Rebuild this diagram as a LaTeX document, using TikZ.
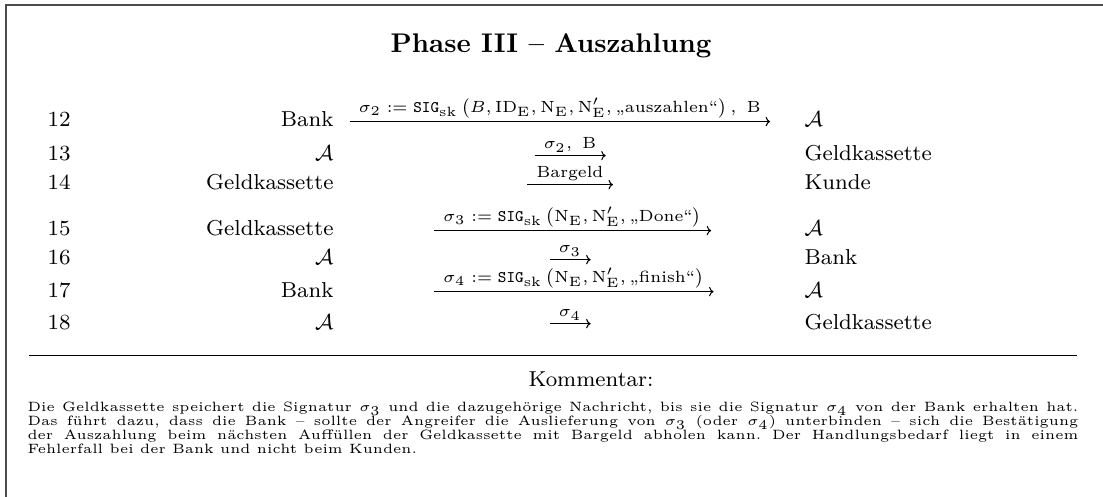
\documentclass[tikz,border=0pt]{standalone}
\usepackage{fontspec}
\usepackage{amsmath}
\usetikzlibrary{arrows.meta}
\tikzset{
  rowtxt/.style={font=\footnotesize, inner sep=0pt},
  num/.style={rowtxt, anchor=base west},
  lcol/.style={rowtxt, anchor=base east},
  rcol/.style={rowtxt, anchor=base west},
  msg/.style={-{Computer Modern Rightarrow}, line width=0.8pt},
  lbl/.style={font=\fontsize{6}{7}\selectfont, inner xsep=3.3pt, inner ysep=1.1pt},
  partxt/.style={font=\tiny\frenchspacing, inner sep=0pt, anchor=base west},
  frame/.style={draw=black!70, line width=1.5pt}
}
\newcommand{\sk}{\mathtt{SIG}_{\mathrm{sk}}}
\newcommand{\NE}{\mathrm{N}_{\mathrm{E}}}
\newcommand{\NEp}{\mathrm{N}'_{\mathrm{E}}}
\newcommand{\parline}[1]{\hbox to 389.2pt{#1}}
\begin{document}
\begin{tikzpicture}[x=0.37037pt, y=-0.37037pt, scale=2.025, transform shape]
\useasboundingbox (0,0) rectangle (1103,497);
\draw[frame] (6,497) -- (6,5) -- (1103,5);
\node[font=\normalsize\bfseries, inner sep=0pt, anchor=base] (title) at (551,53) {Phase III -- Auszahlung};
% rows
\node[num] (n12) at (47,127) {12};
\node[num] (n13) at (47,161) {13};
\node[num] (n14) at (47,190) {14};
\node[num] (n15) at (47,236) {15};
\node[num] (n16) at (47,265) {16};
\node[num] (n17) at (47,297) {17};
\node[num] (n18) at (47,329) {18};
\node[lcol] (l12) at (334,127) {Bank};
\node[lcol] (l13) at (334,161) {$\mathcal{A}$};
\node[lcol] (l14) at (334,190) {Geldkassette};
\node[lcol] (l15) at (334,236) {Geldkassette};
\node[lcol] (l16) at (334,265) {$\mathcal{A}$};
\node[lcol] (l17) at (334,297) {Bank};
\node[lcol] (l18) at (334,329) {$\mathcal{A}$};
\node[rcol] (r12) at (804,127) {$\mathcal{A}$};
\node[rcol] (r13) at (804,161) {Geldkassette};
\node[rcol] (r14) at (804,190) {Kunde};
\node[rcol] (r15) at (804,236) {$\mathcal{A}$};
\node[rcol] (r16) at (804,265) {Bank};
\node[rcol] (r17) at (804,297) {$\mathcal{A}$};
\node[rcol] (r18) at (804,329) {Geldkassette};
% message labels and arrows
\node[lbl, anchor=south east] (t12) at (770,121.6) {$\sigma_2 := \sk\left(B, \mathrm{ID}_{\mathrm{E}}, \NE, \NEp, \text{„auszahlen“}\right),\ \mathrm{B}$};
\node[lbl, anchor=south] (t13) at (570,155.6) {$\sigma_2,\ \mathrm{B}$};
\node[lbl, anchor=south] (t14) at (570,184.6) {Bargeld};
\node[lbl, anchor=south west] (t15) at (434,230.6) {$\sigma_3 := \sk\left(\NE, \NEp, \text{„Done“}\right)$};
\node[lbl, anchor=south] (t16) at (570,259.6) {$\sigma_3$};
\node[lbl, anchor=south west] (t17) at (434,291.6) {$\sigma_4 := \sk\left(\NE, \NEp, \text{„finish“}\right)$};
\node[lbl, anchor=south] (t18) at (570,323.6) {$\sigma_4$};
\foreach \r in {12,13,14,15,16,17,18}{
  \draw[msg] (t\r.south west) -- (t\r.south east);
}
% rule and comment
\coordinate (rs) at (29,355); \coordinate (re) at (1077,355);
\draw[line width=0.6pt] (rs) -- (re);
\node[rowtxt, anchor=base] (komm) at (591,386) {Kommentar:};
\node[partxt] (p1) at (27,411) {\parline{Die Geldkassette speichert die Signatur $\sigma_3$ und die dazugehörige Nachricht, bis sie die Signatur $\sigma_4$ von der Bank erhalten hat.}};
\node[partxt] (p2) at (27,425) {\parline{Das führt dazu, dass die Bank -- sollte der Angreifer die Auslieferung von $\sigma_3$ (oder $\sigma_4$) unterbinden -- sich die Bestätigung}};
\node[partxt] (p3) at (27,439) {\parline{der Auszahlung beim nächsten Auffüllen der Geldkassette mit Bargeld abholen kann. Der Handlungsbedarf liegt in einem}};
\node[partxt] (p4) at (27,453) {Fehlerfall bei der Bank und nicht beim Kunden.};
\end{tikzpicture}
\end{document}
